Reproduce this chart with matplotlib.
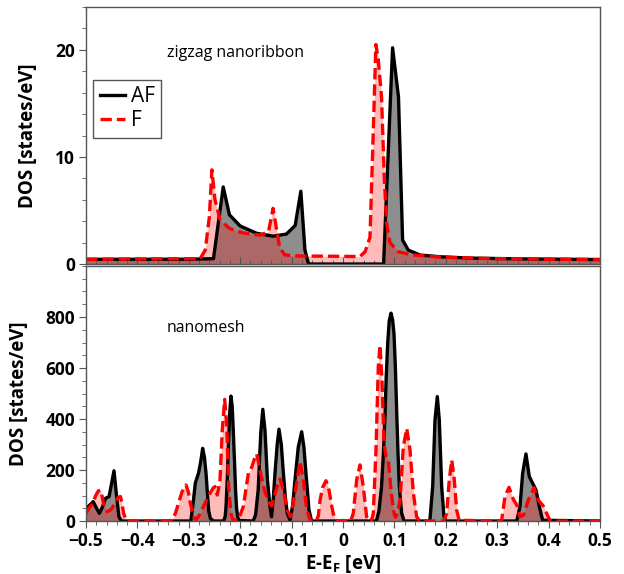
import numpy as np
import matplotlib
matplotlib.use("Agg")
import matplotlib.pyplot as plt
from matplotlib.ticker import MultipleLocator

plt.rcParams['font.family'] = ['Open Sans', 'DejaVu Sans']
plt.rcParams['mathtext.fontset'] = 'custom'
plt.rcParams['mathtext.bf'] = 'Open Sans:bold'
plt.rcParams['mathtext.rm'] = 'Open Sans'

# zigzag nanoribbon DOS (states/eV)
ribbon_af_e = [-0.5, -0.3, -0.252, -0.233, -0.221, -0.2, -0.168, -0.136, -0.11, -0.093,
               -0.082, -0.074, -0.067, 0.079, 0.0965, 0.108, 0.116, 0.127, 0.15, 0.189,
               0.25, 0.35, 0.5]
ribbon_af_dos = [0.44, 0.45, 0.5, 7.2, 4.6, 3.55, 2.87, 2.6, 2.8, 3.6,
                 6.8, 1.3, 0.0, 0.0, 20.2, 15.6, 2.24, 1.3, 0.84, 0.68,
                 0.55, 0.48, 0.42]

ribbon_f_e = [-0.5, -0.278, -0.268, -0.26, -0.255, -0.249, -0.239, -0.22, -0.194, -0.161,
              -0.145, -0.136, -0.128, -0.123, -0.113, -0.084, 0.0, 0.033, 0.043, 0.0525,
              0.059, 0.064, 0.0687, 0.075, 0.0805, 0.085, 0.0914, 0.1076, 0.136, 0.2,
              0.3, 0.5]
ribbon_f_dos = [0.45, 0.5, 1.3, 4.4, 8.8, 6.0, 4.1, 3.3, 2.9, 2.7,
                3.0, 5.2, 2.9, 1.5, 0.85, 0.75, 0.72, 0.7, 1.15, 2.5,
                12.5, 20.5, 19.1, 15.6, 7.9, 3.8, 2.0, 1.15, 0.84, 0.62,
                0.5, 0.42]

# nanomesh DOS (states/eV)
mesh_af_e = [-0.5, -0.493, -0.486, -0.48, -0.474, -0.468, -0.462, -0.455, -0.45, -0.4455,
             -0.441, -0.436, -0.431,
             -0.296, -0.291, -0.2873, -0.281, -0.277, -0.273, -0.2695, -0.2665, -0.2613, -0.258, -0.252,
             -0.232, -0.229, -0.2276, -0.225, -0.223, -0.2205, -0.218, -0.2155, -0.2135, -0.211,
             -0.209, -0.207, -0.205, -0.202,
             -0.1745, -0.17, -0.165, -0.16, -0.156, -0.1518, -0.147, -0.142, -0.139,
             -0.1355, -0.1323, -0.128, -0.1245, -0.12, -0.116, -0.112, -0.1084, -0.103,
             -0.098, -0.0934, -0.087, -0.0804, -0.076, -0.072, -0.0661, -0.061,
             0.065, 0.07, 0.075, 0.0785, 0.0817, 0.084, 0.087, 0.09, 0.0934, 0.0965,
             0.0992, 0.102, 0.1044, 0.107, 0.1096, 0.1142, 0.119,
             0.169, 0.1745, 0.179, 0.1835, 0.1874, 0.192, 0.1965, 0.2,
             0.338, 0.3444, 0.3495, 0.356, 0.3625, 0.369, 0.3755, 0.382, 0.3885, 0.5]
mesh_af_dos = [48, 62, 76, 52, 30, 55, 89, 96, 150, 197,
               108, 17, 0,
               0, 80, 149, 188, 230, 285, 250, 188, 40, 10, 0,
               0, 20, 56, 170, 291, 420, 490, 450, 357, 230,
               122, 50, 17, 2,
               0, 25, 122, 344, 438, 357, 161, 56, 17,
               90, 187, 300, 360, 300, 188, 90, 30, 3,
               60, 161, 290, 350, 290, 187, 43, 0,
               0, 40, 135, 260, 410, 560, 697, 785, 815, 790,
               736, 600, 435, 270, 135, 30, 0,
               0, 135, 396, 488, 396, 135, 17, 0,
               0, 56, 187, 263, 174, 148, 122, 56, 3, 0]

mesh_f_e = [-0.5, -0.494, -0.488, -0.4805, -0.476, -0.472, -0.469, -0.466, -0.459, -0.455,
            -0.4494, -0.444, -0.438, -0.433, -0.43, -0.4267, -0.423, -0.42,
            -0.34, -0.333, -0.326, -0.32, -0.313, -0.3054, -0.301, -0.297, -0.2905, -0.286,
            -0.282, -0.2776, -0.2685, -0.2588, -0.253, -0.249, -0.2445, -0.2393, -0.2348,
            -0.2302, -0.2263, -0.2224, -0.218, -0.214, -0.2037,
            -0.194, -0.184, -0.1777, -0.172, -0.168, -0.1615, -0.153, -0.145, -0.1387,
            -0.1303, -0.1226, -0.116, -0.1084, -0.102, -0.0934, -0.0837, -0.077, -0.0709,
            -0.0642, -0.052, -0.048, -0.0447, -0.04, -0.033, -0.027, -0.022, -0.019, -0.015,
            -0.01, 0.015, 0.02, 0.0266, 0.0331, 0.0395, 0.046, 0.05, 0.056, 0.059,
            0.0642, 0.0687, 0.072, 0.0759, 0.0798, 0.0837, 0.0882, 0.0928, 0.098, 0.102,
            0.1057, 0.1109, 0.1174, 0.124, 0.1304, 0.137, 0.1433, 0.149,
            0.196, 0.2017, 0.2068, 0.2115, 0.216, 0.2212, 0.226,
            0.3, 0.3087, 0.3152, 0.323, 0.3314, 0.338, 0.3444, 0.351, 0.3605, 0.3716,
            0.38, 0.3897, 0.3962, 0.4027, 0.41, 0.5]
mesh_f_dos = [30, 50, 66, 102, 118, 121, 100, 69, 37, 40,
              50, 70, 92, 96, 70, 30, 8, 0,
              0, 3, 30, 70, 115, 141, 115, 70, 17, 5,
              15, 30, 70, 108, 128, 135, 102, 161, 357,
              477, 383, 135, 30, 5, 4,
              56, 188, 210, 245, 263, 200, 122, 76, 59,
              122, 165, 122, 43, 17, 108, 233, 161, 50,
              3, 0, 20, 80, 130, 158, 120, 60, 30, 5,
              0, 0, 30, 161, 220, 135, 17, 0, 5, 30,
              279, 605, 690, 553, 305, 255, 239, 135, 43, 15,
              30, 82, 291, 363, 279, 108, 17, 0,
              0, 30, 161, 239, 174, 43, 3,
              0, 3, 96, 132, 85, 63, 17, 23, 82, 131,
              82, 59, 30, 2, 0, 0]

af_fill = '#8e8e8e'
f_fill = (1.0, 0.0, 0.0, 0.27)
dash = (0, (3.4, 1.5))

fig = plt.figure(figsize=(6.24, 5.74), dpi=100)
ax1 = fig.add_axes([0.1378, 0.540, 0.8237, 0.4477])
ax2 = fig.add_axes([0.1378, 0.0923, 0.8237, 0.4443])

for ax, ae, ad, fe, fd in [(ax1, ribbon_af_e, ribbon_af_dos, ribbon_f_e, ribbon_f_dos),
                           (ax2, mesh_af_e, mesh_af_dos, mesh_f_e, mesh_f_dos)]:
    ax.fill_between(ae, ad, 0, color=af_fill, lw=0)
    ax.plot(ae, ad, color='black', lw=2.4, label='AF')
    ax.fill_between(fe, fd, 0, color=f_fill, lw=0)
    ax.plot(fe, fd, color='red', lw=2.4, ls=dash, label='F')
    ax.set_xlim(-0.5, 0.5)
    ax.xaxis.set_major_locator(MultipleLocator(0.1))
    ax.xaxis.set_minor_locator(MultipleLocator(0.02))
    for s in ax.spines.values():
        s.set_color('#555555')
        s.set_linewidth(1.0)
    ax.tick_params(which='both', color='#555555', labelsize=12.5, pad=3)
    ax.tick_params(which='major', length=5)
    ax.tick_params(which='minor', length=3)
    ax.set_ylabel('DOS [states/eV]', fontsize=13.5, fontweight='bold', labelpad=12)
    for lab in ax.get_xticklabels() + ax.get_yticklabels():
        lab.set_fontweight('bold')

ax1.set_ylim(0, 24)
ax1.yaxis.set_major_locator(MultipleLocator(10))
ax1.yaxis.set_minor_locator(MultipleLocator(2))
ax1.tick_params(axis='x', which='both', direction='in', labelbottom=False)
ax1.text(-0.21, 19.7, 'zigzag nanoribbon', fontsize=11.5, ha='center', va='center')
leg = ax1.legend(loc='upper left', bbox_to_anchor=(0.0, 0.745), fontsize=15,
                 handlelength=1.2, handletextpad=0.3, borderpad=0.3, labelspacing=0.15,
                 borderaxespad=0.35, fancybox=False, framealpha=1)
leg.get_frame().set_edgecolor('#555555')

ax2.set_ylim(0, 1000)
ax2.set_yticks([0, 200, 400, 600, 800])
ax2.yaxis.set_minor_locator(MultipleLocator(50))
ax2.set_xticks([-0.5, -0.4, -0.3, -0.2, -0.1, 0, 0.1, 0.2, 0.3, 0.4, 0.5])
ax2.set_xticklabels(['\u22120.5', '\u22120.4', '\u22120.3', '\u22120.2', '\u22120.1', '0',
                     '0.1', '0.2', '0.3', '0.4', '0.5'], fontweight='bold')
for lab in ax2.get_yticklabels():
    lab.set_fontweight('bold')
ax2.text(-0.2676, 757, 'nanomesh', fontsize=11.3, ha='center', va='center')
ax2.set_xlabel(r'E-E$_\mathbf{F}$ [eV]', fontsize=13.5, fontweight='bold', labelpad=2)

fig.savefig('out.png', dpi=100)
